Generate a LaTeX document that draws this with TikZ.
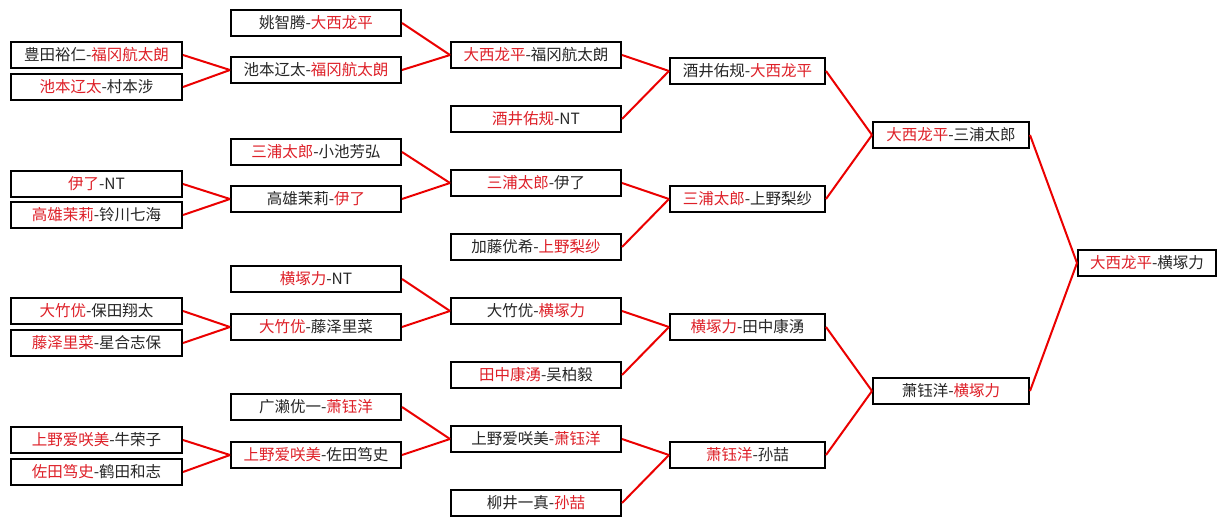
\documentclass[tikz,border=0pt]{standalone}
\usepackage{fontspec}
\setmainfont{Noto Sans CJK SC}
\definecolor{tred}{RGB}{222,32,40}
\definecolor{lred}{RGB}{235,0,0}
\newcommand\rd[1]{\textcolor{tred}{#1}}
\begin{document}
\begin{tikzpicture}[x=1pt,y=-1pt,
  bx/.style={draw=black, line width=2pt, fill=white, rectangle, inner sep=0pt,
    minimum height=26pt, text=black!85, font=\fontsize{15.5}{17}\selectfont},
  wa/.style={minimum width=171pt},
  wb/.style={minimum width=170pt},
  wc/.style={minimum width=155pt},
  wd/.style={minimum width=156pt},
  we/.style={minimum width=138pt},
  link/.style={draw=lred, line width=2pt}]
\useasboundingbox[fill=white] (0,0) rectangle (1226,525);
% column 1
\node[bx,wa] (c1a) at (96.5,55)  {豊田裕仁-\rd{福冈航太朗}};
\node[bx,wa] (c1b) at (96.5,87)  {\rd{池本辽太}-村本涉};
\node[bx,wa] (c1c) at (96.5,184) {\rd{伊了}-NT};
\node[bx,wa] (c1d) at (96.5,215) {\rd{高雄茉莉}-铃川七海};
\node[bx,wa] (c1e) at (96.5,311) {\rd{大竹优}-保田翔太};
\node[bx,wa] (c1f) at (96.5,343) {\rd{藤泽里菜}-星合志保};
\node[bx,wa] (c1g) at (96.5,440) {\rd{上野爱咲美}-牛荣子};
\node[bx,wa] (c1h) at (96.5,472) {\rd{佐田笃史}-鹤田和志};
% column 2
\node[bx,wb] (c2a) at (316,23)  {姚智腾-\rd{大西龙平}};
\node[bx,wb] (c2b) at (316,70)  {池本辽太-\rd{福冈航太朗}};
\node[bx,wb] (c2c) at (316,152) {\rd{三浦太郎}-小池芳弘};
\node[bx,wb] (c2d) at (316,199) {高雄茉莉-\rd{伊了}};
\node[bx,wb] (c2e) at (316,279) {\rd{横塚力}-NT};
\node[bx,wb] (c2f) at (316,327) {\rd{大竹优}-藤泽里菜};
\node[bx,wb] (c2g) at (316,407) {广濑优一-\rd{萧钰洋}};
\node[bx,wb] (c2h) at (316,455) {\rd{上野爱咲美}-佐田笃史};
% column 3
\node[bx,wb] (c3a) at (536,55)  {\rd{大西龙平}-福冈航太朗};
\node[bx,wb] (c3b) at (536,119) {\rd{酒井佑规}-NT};
\node[bx,wb] (c3c) at (536,183) {\rd{三浦太郎}-伊了};
\node[bx,wb] (c3d) at (536,247) {加藤优希-\rd{上野梨纱}};
\node[bx,wb] (c3e) at (536,311) {大竹优-\rd{横塚力}};
\node[bx,wb] (c3f) at (536,375) {\rd{田中康湧}-吴柏毅};
\node[bx,wb] (c3g) at (536,439) {上野爱咲美-\rd{萧钰洋}};
\node[bx,wb] (c3h) at (536,503) {柳井一真-\rd{孙喆}};
% column 4
\node[bx,wc] (c4a) at (747.5,71)  {酒井佑规-\rd{大西龙平}};
\node[bx,wc] (c4b) at (747.5,199) {\rd{三浦太郎}-上野梨纱};
\node[bx,wc] (c4c) at (747.5,327) {\rd{横塚力}-田中康湧};
\node[bx,wc] (c4d) at (747.5,455) {\rd{萧钰洋}-孙喆};
% column 5
\node[bx,wd] (c5a) at (951,135) {\rd{大西龙平}-三浦太郎};
\node[bx,wd] (c5b) at (951,391) {萧钰洋-\rd{横塚力}};
% column 6
\node[bx,we] (c6)  at (1147,263) {\rd{大西龙平}-横塚力};
% connectors
\foreach \s/\t in {c1a/c2b,c1b/c2b,c1c/c2d,c1d/c2d,c1e/c2f,c1f/c2f,c1g/c2h,c1h/c2h,
  c2a/c3a,c2b/c3a,c2c/c3c,c2d/c3c,c2e/c3e,c2f/c3e,c2g/c3g,c2h/c3g,
  c3a/c4a,c3b/c4a,c3c/c4b,c3d/c4b,c3e/c4c,c3f/c4c,c3g/c4d,c3h/c4d,
  c4a/c5a,c4b/c5a,c4c/c5b,c4d/c5b,c5a/c6,c5b/c6}
  \draw[link] (\s.east) -- (\t.west);
\end{tikzpicture}
\end{document}
